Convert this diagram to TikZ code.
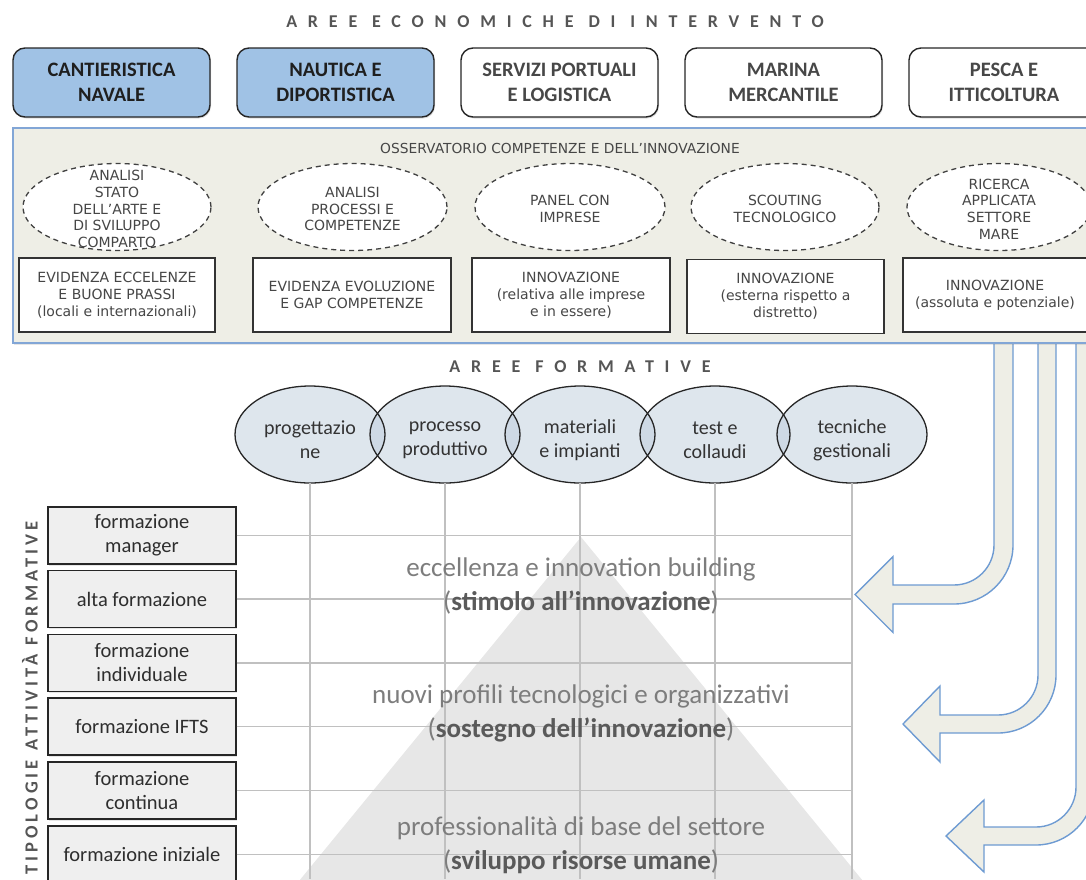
\documentclass[tikz,border=0pt]{standalone}
\usepackage{fontspec}
\setmainfont{Carlito}
\newfontfamily\verd{DejaVu Sans}
\newfontfamily\spacedA[LetterSpace=60]{Carlito}
\newfontfamily\spacedB[LetterSpace=22]{Carlito}
\usetikzlibrary{shapes.geometric,shadows}
\definecolor{topblue}{RGB}{160,194,229}
\definecolor{panelbg}{RGB}{238,238,230}
\definecolor{panelline}{RGB}{130,166,214}
\definecolor{arrline}{RGB}{110,155,210}
\definecolor{fellfill}{RGB}{190,205,220}
\definecolor{lboxfill}{RGB}{239,239,239}
\definecolor{gridc}{RGB}{192,192,192}
\definecolor{trig}{RGB}{231,231,231}
\definecolor{ptext}{RGB}{125,125,125}
\definecolor{ptextb}{RGB}{90,90,90}
\definecolor{titc}{RGB}{85,85,85}
\definecolor{boxtext}{RGB}{70,70,70}
\begin{document}
\begin{tikzpicture}[x=1pt,y=-1pt,
  areabox/.style={draw=black!85, line width=1.4pt, rounded corners=12pt,
    minimum width=197pt, minimum height=69pt, align=center, inner sep=0pt,
    font=\fontsize{20.5}{25}\selectfont\bfseries,
    drop shadow={opacity=0.25, shadow xshift=1pt, shadow yshift=-1.5pt}},
  bluebox/.style={areabox, fill=topblue, text=black!88},
  whitebox/.style={areabox, fill=white, text=black!72},
  panel/.style={draw=panelline, line width=1.5pt, fill=panelbg, inner sep=0pt,
    drop shadow={opacity=0.2, shadow xshift=1pt, shadow yshift=-1.5pt}},
  pbox/.style={draw=black!80, line width=1.3pt, fill=white, inner sep=0pt,
    minimum height=74pt, align=center, text=boxtext,
    font=\verd\fontsize{14}{17}\selectfont},
  pell/.style={ellipse, draw=black!75, line width=1.3pt, dash pattern=on 5pt off 4pt,
    fill=white, inner sep=0pt, minimum height=87pt},
  pelltext/.style={align=center, text=boxtext, inner sep=0pt,
    font=\verd\fontsize{14}{16.7}\selectfont},
  ftitle/.style={text=titc, font=\spacedA\fontsize{18}{20}\selectfont\bfseries},
  fell/.style={ellipse, fill=fellfill, fill opacity=0.5, text opacity=1,
    minimum width=150pt, minimum height=97pt, inner sep=0pt},
  fellline/.style={draw=black!85, line width=1.3pt},
  felltext/.style={align=center, text=black!80, inner sep=0pt,
    font=\fontsize{20}{24}\selectfont},
  lbox/.style={draw=black!85, line width=1.4pt, fill=lboxfill, inner sep=0pt,
    minimum width=188pt, minimum height=57pt, align=center, text=black!82,
    font=\fontsize{20.5}{24}\selectfont,
    drop shadow={opacity=0.2, shadow xshift=1pt, shadow yshift=-1.5pt}},
  gridline/.style={draw=gridc, line width=1.4pt},
  ptxt/.style={align=center, text=ptext, inner sep=0pt,
    font=\fontsize{27}{34}\selectfont},
  barrow/.style={fill=panelbg, draw=arrline, line width=1.4pt, line join=miter}
]
\useasboundingbox (0,0) rectangle (1086,879);

% ---- title ----
\node[ftitle] (t1) at (555,22) {AREE ECONOMICHE DI INTERVENTO};

% ---- top boxes ----
\node[bluebox] (a1) at (111.5,82.5) {CANTIERISTICA\\NAVALE};
\node[bluebox] (a2) at (335.5,82.5) {NAUTICA E\\DIPORTISTICA};
\node[whitebox] (a3) at (559.5,82.5) {SERVIZI PORTUALI\\E LOGISTICA};
\node[whitebox] (a4) at (783.5,82.5) {MARINA\\MERCANTILE};
\node[whitebox, minimum width=190pt] (a5) at (1004,82.5) {PESCA E\\ITTICOLTURA};

% ---- arrows (drawn under the panel) ----
% arrow 1
\filldraw[barrow] (994,343) -- (994,545) arc[start angle=0, end angle=90, radius=40]
  -- (893,585) -- (893,556.5) -- (855,594.5) -- (893,632.5) -- (893,604)
  -- (954,604) arc[start angle=90, end angle=0, radius=59] -- (1013,343);
% arrow 2
\filldraw[barrow] (1038,343) -- (1038,675) arc[start angle=0, end angle=90, radius=40]
  -- (940,715) -- (940,686) -- (903,724) -- (940,762) -- (940,733)
  -- (998,733) arc[start angle=90, end angle=0, radius=58] -- (1056,343);
% arrow 3
\filldraw[barrow] (1076,343) -- (1076,787) arc[start angle=0, end angle=90, radius=40]
  -- (984,827) -- (984,800) -- (946,836) -- (984,872) -- (984,845)
  -- (1036,845) arc[start angle=90, end angle=0, radius=58] -- (1094,343);

% ---- observatory panel ----
\node[panel, minimum width=1087pt, minimum height=215pt] (obs) at (556.5,235.5) {};
\node[text=boxtext, inner sep=0pt, font=\verd\fontsize{13.8}{16}\selectfont] (obst) at (560,148)
  {OSSERVATORIO COMPETENZE E DELL’INNOVAZIONE};

\node[pell, minimum width=188pt] (e1) at (117,207) {};
\node[pell, minimum width=189pt] (e2) at (352.5,207) {};
\node[pell, minimum width=190pt] (e3) at (570,207) {};
\node[pell, minimum width=188pt] (e4) at (785,207) {};
\node[pell, minimum width=184pt] (e5) at (999,207) {};
\node[pelltext] (e1t) at (117,209) {ANALISI\\STATO\\DELL’ARTE E\\DI SVILUPPO\\COMPARTO};
\node[pelltext] (e2t) at (352.5,209) {ANALISI\\PROCESSI E\\COMPETENZE};
\node[pelltext] (e3t) at (570,209) {PANEL CON\\IMPRESE};
\node[pelltext] (e4t) at (785,209) {SCOUTING\\TECNOLOGICO};
\node[pelltext] (e5t) at (999,209) {RICERCA\\APPLICATA\\SETTORE\\MARE};

\node[pbox, minimum width=196pt] (b1) at (117,295) {EVIDENZA ECCELENZE\\E BUONE PRASSI\\(locali e internazionali)};
\node[pbox, minimum width=198pt] (b2) at (352,295) {EVIDENZA EVOLUZIONE\\E GAP COMPETENZE};
\node[pbox, minimum width=198pt] (b3) at (571,295) {INNOVAZIONE\\(relativa alle imprese\\e in essere)};
\node[pbox, minimum width=197pt] (b4) at (785.5,296.5) {INNOVAZIONE\\(esterna rispetto a\\distretto)};
\node[pbox, minimum width=184pt] (b5) at (995,295) {INNOVAZIONE\\(assoluta e potenziale)};

% ---- aree formative ----
\node[ftitle] (t2) at (580,367) {AREE FORMATIVE};

\fill[trig] (581,537) -- (290,892) -- (872,892) -- cycle;

\node[fell] (f1) at (310,434.5) {};
\node[fell] (f2) at (445,434.5) {};
\node[fell] (f3) at (580,434.5) {};
\node[fell] (f4) at (715,434.5) {};
\node[fell] (f5) at (852,434.5) {};
\foreach \n in {f1,f2,f3,f4,f5}
  \draw[fellline] (\n.center) ellipse [x radius=75, y radius=48.5];
\node[felltext] (f1t) at (310,440) {progettazio\\ne};
\node[felltext] (f2t) at (445,440) {processo\\produttivo};
\node[felltext] (f3t) at (580,440) {materiali\\e impianti};
\node[felltext] (f4t) at (715,440) {test e\\collaudi};
\node[felltext] (f5t) at (852,440) {tecniche\\gestionali};

% ---- left boxes ----
\node[lbox] (l1) at (142,535.5) {formazione\\manager};
\node[lbox] (l2) at (142,599) {alta formazione};
\node[lbox] (l3) at (142,663) {formazione\\individuale};
\node[lbox] (l4) at (142,726.5) {formazione IFTS};
\node[lbox] (l5) at (142,790.5) {formazione\\continua};
\node[lbox] (l6) at (142,854.5) {formazione iniziale};

\node[rotate=90, text=titc, inner sep=0pt, font=\spacedB\fontsize{18.5}{20}\selectfont\bfseries] (vt) at (30,698)
  {TIPOLOGIE\enspace ATTIVITÀ\enspace FORMATIVE};

% ---- grid ----
\foreach \n in {f1,f2,f3,f4,f5}
  \draw[gridline] (\n.south) -- (\n.south |- 0,879);
\foreach \n in {l1,l2,l3,l4,l5,l6}
  \draw[gridline] (\n.east) -- (\n.east -| f5.south);

% ---- pyramid texts ----
\node[ptxt] (p1) at (581,586) {eccellenza e innovation building\\({\color{ptextb}\bfseries stimolo all’innovazione})};
\node[ptxt] (p2) at (581,713) {nuovi profili tecnologici e organizzativi\\({\color{ptextb}\bfseries sostegno dell’innovazione})};
\node[ptxt] (p3) at (581,845) {professionalità di base del settore\\({\color{ptextb}\bfseries sviluppo risorse umane})};
\end{tikzpicture}
\end{document}
